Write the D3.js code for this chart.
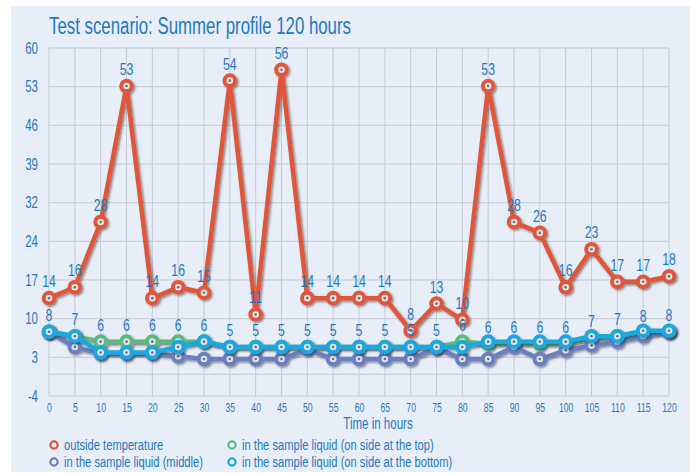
<!DOCTYPE html>
<html>
<head>
<meta charset="utf-8">
<script src="https://cdn.jsdelivr.net/npm/d3@7"></script>
<style>
  body { margin: 0; background: #fff; }
  svg text { font-family: "Liberation Sans", Arial, sans-serif; }
</style>
</head>
<body>
<div id="chart"></div>
<script>
const hours = d3.range(0, 121, 5);
const outsideTemp = [14, 16, 28, 53, 14, 16, 15, 54, 11, 56, 14, 14, 14, 14, 8, 13, 10, 53, 28, 26, 16, 23, 17, 17, 18];
const liquidTop = [7.8, 7, 6, 6, 6, 6, 6, 5, 5, 5, 5, 5, 5, 5, 5, 5, 6, 5.6, 5.6, 5.6, 5.6, 6.6, 7, 7.6, 7.8];
const liquidMiddle = [7.8, 5, 3.8, 3.8, 3.8, 3.3, 2.8, 2.8, 2.8, 2.8, 4.6, 2.8, 2.8, 2.8, 2.8, 4.8, 2.8, 2.8, 5, 2.8, 4.4, 5.3, 6, 7, 7.8];
const liquidBottom = [7.8, 7, 4, 4, 4, 5, 6, 5, 5, 5, 5, 5, 5, 5, 5, 5, 5, 6, 6, 6, 6, 7, 7, 8, 8];
const yTicks = d3.range(10).map(i => -4 + i * 64 / 9);

const series = [
  { name: "outside temperature", values: outsideTemp, color: "#e0573a" },
  { name: "in the sample liquid (on side at the top)", values: liquidTop, color: "#5fb882" },
  { name: "in the sample liquid (middle)", values: liquidMiddle, color: "#6b7fc0" },
  { name: "in the sample liquid (on side at the bottom)", values: liquidBottom, color: "#1ba8df" }
];

const width = 697, height = 475;
const blue = "#1f78c1";

const svg = d3.select("#chart").append("svg")
  .attr("width", width)
  .attr("height", height);

const defs = svg.append("defs");
const f = defs.append("filter").attr("id", "shadow")
  .attr("x", "-20%").attr("y", "-20%").attr("width", "140%").attr("height", "140%");
f.append("feDropShadow").attr("dx", 1.5).attr("dy", 1.5)
  .attr("stdDeviation", 1.2).attr("flood-color", "#000").attr("flood-opacity", 0.45);

svg.append("rect")
  .attr("x", 11).attr("y", 6)
  .attr("width", 679).attr("height", 466)
  .attr("fill", "#e8eef7");

svg.append("text")
  .attr("class", "title")
  .attr("x", 49).attr("y", 34)
  .attr("fill", blue)
  .attr("font-size", 23)
  .text("Test scenario: Summer profile 120 hours");

const x = d3.scaleLinear().domain([0, 120]).range([49, 669]);
const y = d3.scaleLinear().domain([-4, 60]).range([396, 48]);

// grid
const grid = svg.append("g").attr("stroke", "#c5cad6").attr("stroke-width", 1);
grid.selectAll("line.h")
  .data(yTicks.concat([0]))
  .enter().append("line")
  .attr("x1", x(0)).attr("x2", x(120))
  .attr("y1", d => y(d)).attr("y2", d => y(d));
grid.selectAll("line.v")
  .data(hours)
  .enter().append("line")
  .attr("x1", d => x(d)).attr("x2", d => x(d))
  .attr("y1", y(60)).attr("y2", y(-4));

// axes
const yAxis = svg.append("g")
  .attr("transform", `translate(${x(0)},0)`)
  .call(d3.axisLeft(y).tickValues(yTicks).tickFormat(d => Math.round(d)).tickSize(0).tickPadding(11));
yAxis.select(".domain").remove();
yAxis.selectAll("text").attr("fill", blue).attr("font-size", 16).attr("font-family", null);

const xAxis = svg.append("g")
  .attr("transform", `translate(0,${y(-4)})`)
  .call(d3.axisBottom(x).tickValues(hours).tickSize(0).tickPadding(7));
xAxis.select(".domain").remove();
xAxis.selectAll("text").attr("fill", blue).attr("font-size", 12).attr("font-family", null);

svg.append("text")
  .attr("x", 378).attr("y", 429)
  .attr("text-anchor", "middle")
  .attr("fill", blue)
  .attr("font-size", 16)
  .text("Time in hours");

// lines
const line = d3.line()
  .x((d, i) => x(hours[i]))
  .y(d => y(d));

series.forEach(s => {
  const g = svg.append("g").attr("filter", "url(#shadow)");
  g.append("path")
    .attr("d", line(s.values))
    .attr("fill", "none")
    .attr("stroke", s.color)
    .attr("stroke-width", 4.5)
    .attr("stroke-linejoin", "round");
  g.selectAll("circle.m")
    .data(s.values)
    .enter().append("circle")
    .attr("cx", (d, i) => x(hours[i]))
    .attr("cy", d => y(d))
    .attr("r", 5.3)
    .attr("fill", "#dfe4ec")
    .attr("stroke", s.color)
    .attr("stroke-width", 4);
  g.selectAll("circle.c")
    .data(s.values)
    .enter().append("circle")
    .attr("cx", (d, i) => x(hours[i]))
    .attr("cy", d => y(d))
    .attr("r", 1.3)
    .attr("fill", "#6d6f75");
});

// data labels
[outsideTemp, liquidTop].forEach(vals => {
  svg.append("g").selectAll("text")
    .data(vals)
    .enter().append("text")
    .attr("x", (d, i) => x(hours[i]))
    .attr("y", d => y(d) - 11)
    .attr("text-anchor", "middle")
    .attr("fill", blue)
    .attr("font-size", 17)
    .text(d => Math.round(d));
});

// legend
const legendPos = [[54, 445], [232, 445], [54, 462], [232, 462]];
const legend = svg.selectAll(".legend-item")
  .data(series)
  .enter().append("g")
  .attr("class", "legend-item")
  .attr("transform", (d, i) => `translate(${legendPos[i][0]},${legendPos[i][1]})`);

legend.append("circle")
  .attr("r", 3.6)
  .attr("fill", "#e8eef7")
  .attr("stroke", d => d.color)
  .attr("stroke-width", 2.2);

legend.append("text")
  .attr("x", 10)
  .attr("y", 0)
  .attr("dy", "0.35em")
  .attr("fill", blue)
  .attr("font-size", 15.5)
  .text(d => d.name);

// condensed look: squeeze every label horizontally
svg.selectAll("text").each(function () {
  const len = this.getComputedTextLength();
  const k = d3.select(this).classed("title") ? 302 / len : 0.72;
  d3.select(this)
    .attr("textLength", len * k)
    .attr("lengthAdjust", "spacingAndGlyphs");
});
</script>
</body>
</html>
